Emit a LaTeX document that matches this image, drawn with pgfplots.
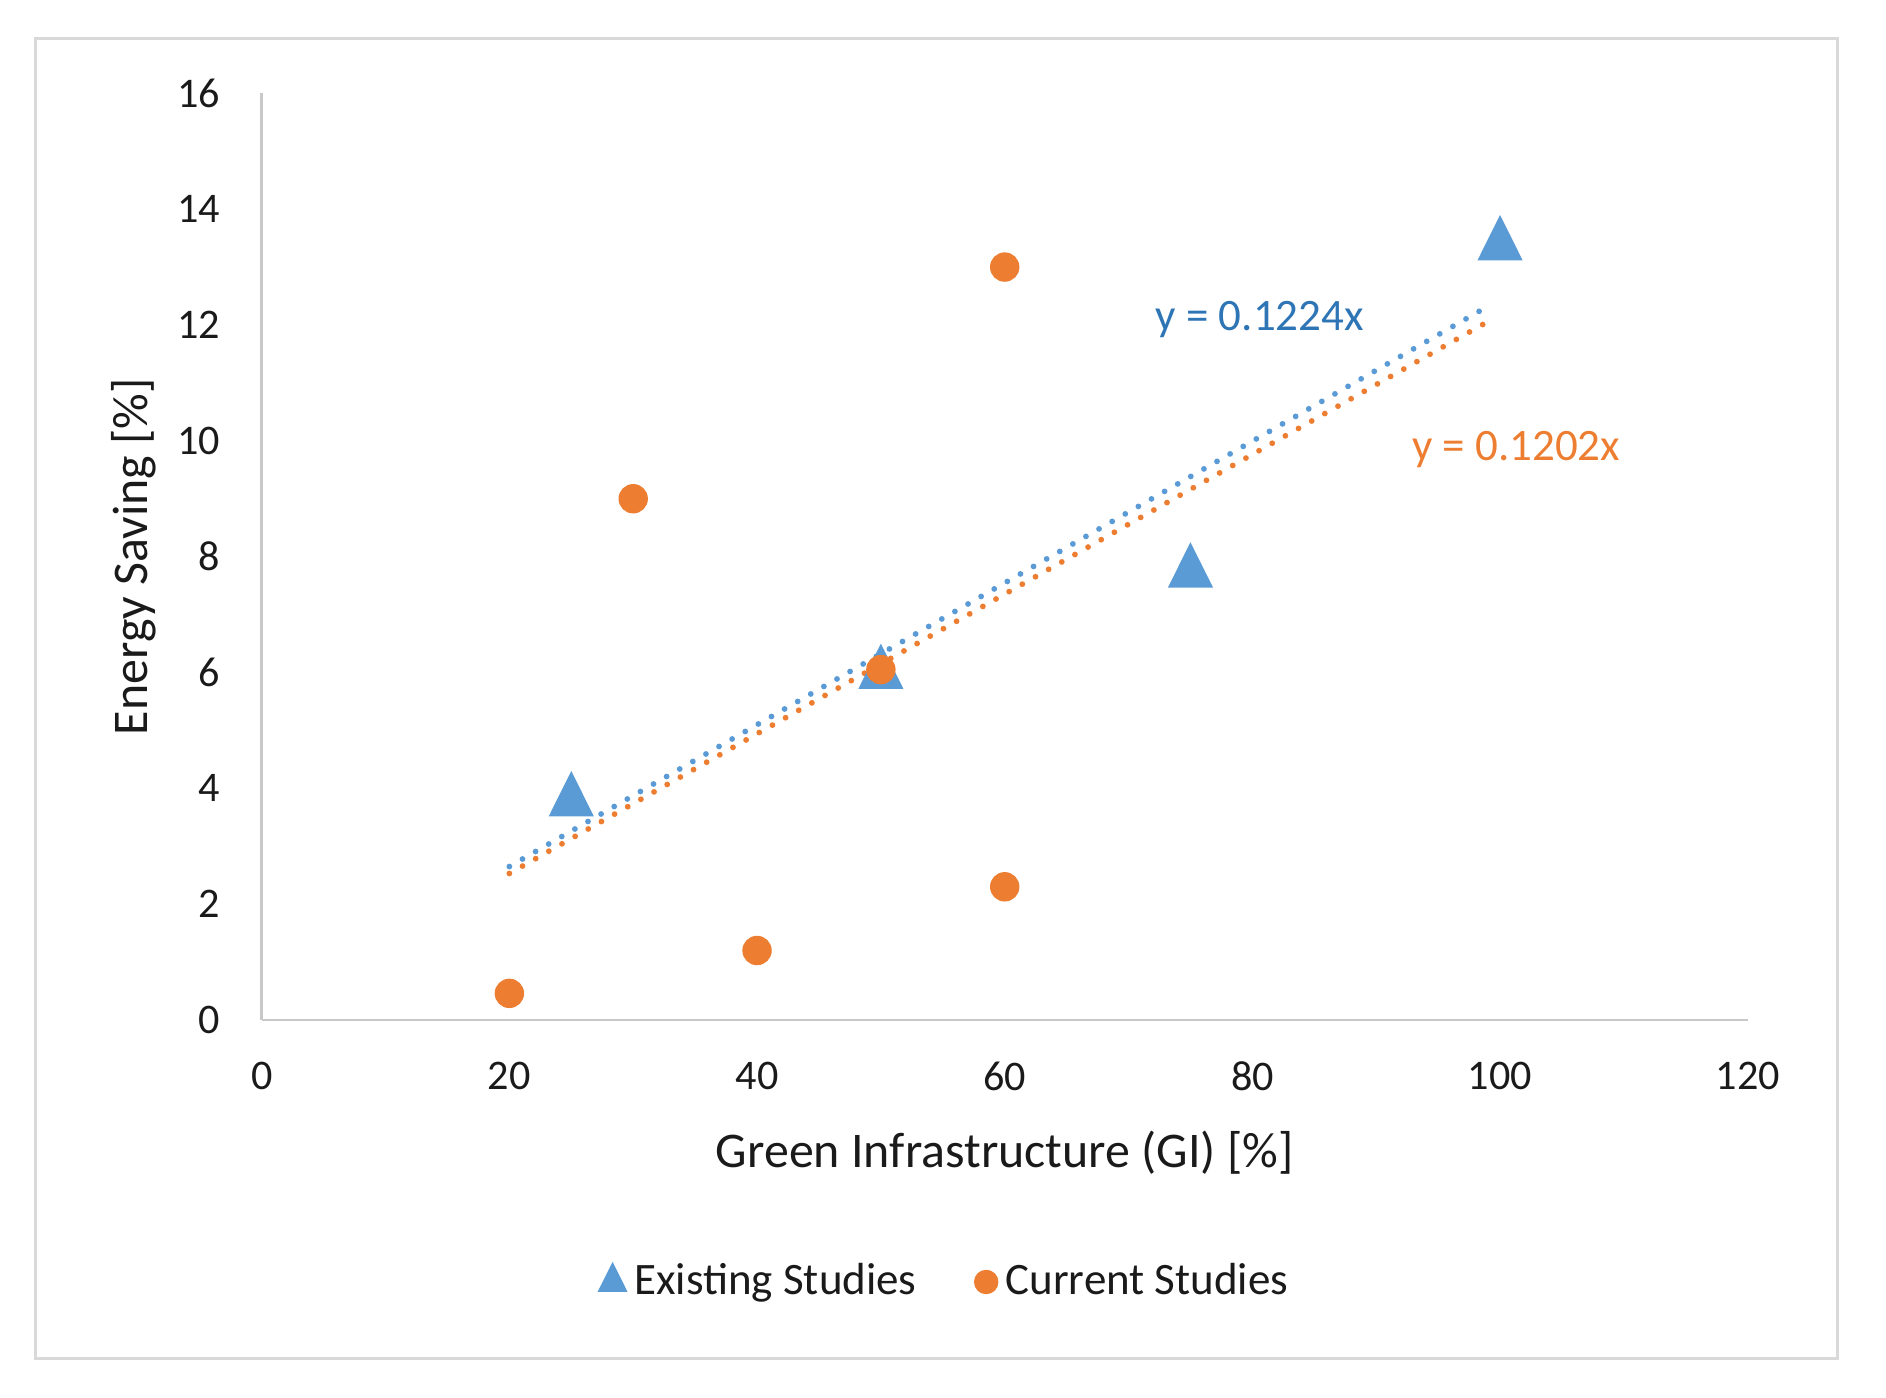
\documentclass[border=0pt]{standalone}
\usepackage{pgfplots}
\pgfplotsset{compat=1.18}
\usepackage{fontspec}
\setmainfont{Carlito}
\definecolor{exblue}{HTML}{5B9BD5}
\definecolor{cuorange}{HTML}{ED7D31}
\definecolor{eqblue}{HTML}{2E75B6}
\definecolor{axgray}{HTML}{C8C8C8}
\definecolor{bordergray}{HTML}{D9D9D9}
\definecolor{txt}{HTML}{1A1A1A}
\begin{document}
\begin{tikzpicture}
\path[use as bounding box] (-26.17mm,-37.7mm) rectangle (162.43mm,102.0mm);
\draw[bordergray, line width=0.3mm] (-22.57mm,-33.8mm) rectangle (157.53mm,98.15mm);
\begin{axis}[
  scale only axis,
  width=148.6mm, height=92.67mm,
  xmin=0, xmax=120, ymin=0, ymax=16,
  enlargelimits=false,
  xtick={0,20,...,120}, ytick={0,2,...,16},
  axis x line*=bottom, axis y line*=left,
  axis line style={-, draw=axgray, line width=0.25mm},
  major tick length=0pt,
  /pgf/number format/assume math mode=true,
  tick label style={font=\fontsize{12}{14}\selectfont, text=txt, inner sep=0pt},
  xticklabel style={anchor=north, yshift=-4.1mm},
  yticklabel style={anchor=east, xshift=-4.1mm},
  xlabel={Green Infrastructure (GI) [\%]},
  ylabel={Energy Saving [\%]},
  label style={font=\fontsize{14.2}{16}\selectfont, text=txt},
  xlabel style={at={(axis description cs:0.5,-0.143)}, anchor=center},
  ylabel style={at={(axis description cs:-0.0861,0.5)}, anchor=center, rotate=0},
  legend style={at={(axis description cs:0.4615,-0.2827)}, anchor=center, draw=none,
    font=\fontsize{12.8}{15}\selectfont, text=txt, legend columns=2,
    nodes={inner sep=0.8mm},
    /tikz/every even column/.append style={column sep=5mm}},
  legend cell align=left,
]
% trendlines
\addplot[exblue, line width=0.58mm, line cap=round, dash pattern=on 0pt off 1.51mm, forget plot] coordinates {(20,2.65) (99,12.32)};
\addplot[cuorange, line width=0.58mm, line cap=round, dash pattern=on 0pt off 1.51mm, forget plot] coordinates {(20,2.53) (99.2,12.08)};
% existing studies
\addplot[only marks, mark=triangle*, mark size=2.48mm, color=exblue, mark options={fill=exblue, draw=exblue, yshift=-0.72mm, yscale=1.16},
  legend image code/.code={\draw[exblue, fill=exblue] plot[mark=triangle*, mark size=1.6mm, mark options={yscale=1.16}] coordinates {(0,0)};}] coordinates {
(25,3.9) (50,6.1) (75,7.85) (100,13.5)};
\addlegendentry{Existing Studies}
% current studies
\addplot[only marks, mark=*, mark size=1.4mm, color=cuorange, mark options={fill=cuorange, draw=cuorange},
  legend image code/.code={\draw[cuorange, fill=cuorange] plot[mark=*, mark size=1.15mm] coordinates {(0,0)};}] coordinates {
(20,0.46) (30,9.0) (40,1.2) (50,6.05) (60,13.0) (60,2.3)};
\addlegendentry{Current Studies}
\node[eqblue, font=\fontsize{12.8}{15}\selectfont] at (axis cs:80.6,12.1) {y = 0.1224x};
\node[cuorange, font=\fontsize{12.8}{15}\selectfont] at (axis cs:101.3,9.85) {y = 0.1202x};
\end{axis}
\end{tikzpicture}
\end{document}
